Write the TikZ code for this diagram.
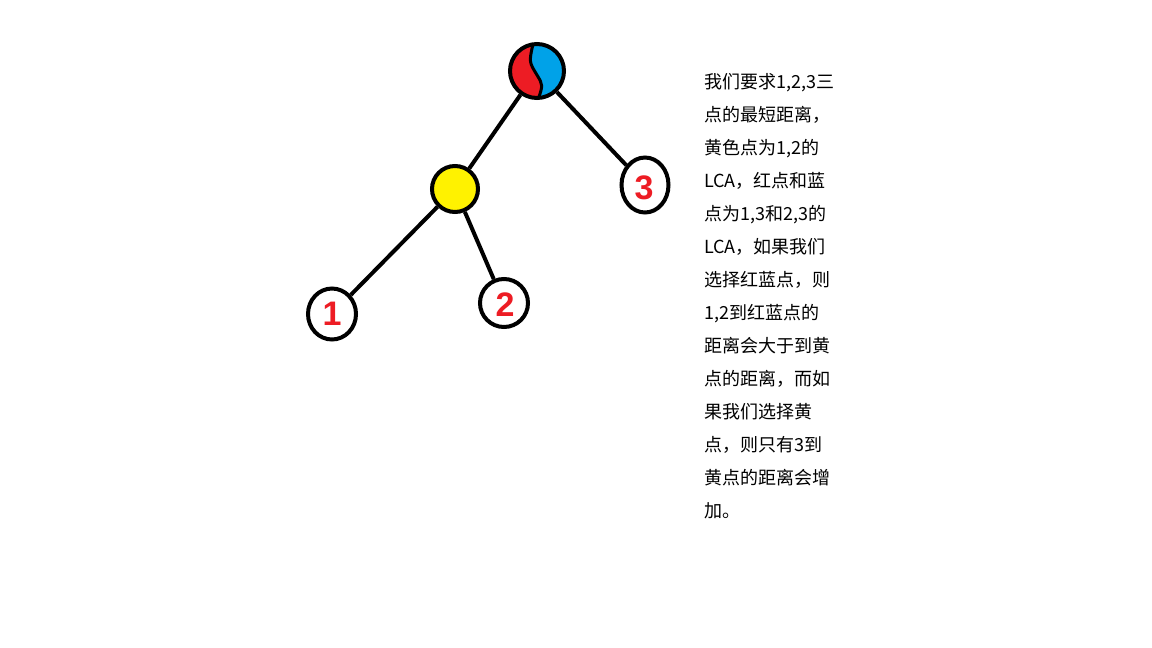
\documentclass[tikz,border=0pt]{standalone}
\usepackage{fontspec}
\usetikzlibrary{shapes.geometric}
\setmainfont{Liberation Sans}
\newfontfamily\cjk{Noto Sans CJK SC}
\definecolor{pred}{HTML}{ED1C24}
\definecolor{pblue}{HTML}{00A2E8}
\definecolor{pyel}{HTML}{FFF200}
\begin{document}
\begin{tikzpicture}[x=1pt,y=-1pt,
  tnode/.style={draw=black,line width=4pt,ellipse,inner sep=0pt},
  edge/.style={draw=black,line width=4pt},
  digit/.style={text=pred,font=\fontsize{34}{34}\selectfont\bfseries},
  txt/.style={anchor=base west,inner sep=0pt,font=\cjk\fontsize{18}{18}\selectfont}]
\useasboundingbox[fill=white] (0,0) rectangle (1152,648);
% root with red/blue halves
\begin{scope}
  \clip (537,71) circle (28);
  \fill[pblue] (500,30) rectangle (580,110);
  \fill[pred] (500,30) -- (533,30) -- (533,48) .. controls (529,62) .. (537,75) .. controls (543,85) .. (538,110) -- (500,110) -- cycle;
  \draw[line width=3pt] (533,44) .. controls (529,62) .. (537,75) .. controls (543,85) .. (538,100);
\end{scope}
\node[tnode,circle,minimum size=54pt] (root) at (537,71) {};
\node[tnode,circle,fill=pyel,minimum size=46pt] (yellow) at (455,189) {};
\node[tnode,minimum width=47pt,minimum height=55pt] (n3) at (645,185) {};
\node[tnode,minimum width=48pt,minimum height=51pt] (n1) at (332,314) {};
\node[tnode,minimum width=48pt,minimum height=48pt] (n2) at (504,303) {};
\node[digit] (d1) at (n1) {1};
\node[digit] (d2) at (505,305) {2};
\node[digit] (d3) at (644,188) {3};
\draw[edge] (root) -- (yellow);
\draw[edge] (root) -- (n3);
\draw[edge] (yellow) -- (n1);
\draw[edge] (yellow) -- (n2);
\node[txt] (t1) at (704,88) {我们要求1,2,3三};
\node[txt] (t2) at (704,121) {点的最短距离，};
\node[txt] (t3) at (704,154) {黄色点为1,2的};
\node[txt] (t4) at (704,187) {LCA，红点和蓝};
\node[txt] (t5) at (704,220) {点为1,3和2,3的};
\node[txt] (t6) at (704,253) {LCA，如果我们};
\node[txt] (t7) at (704,286) {选择红蓝点，则};
\node[txt] (t8) at (704,319) {1,2到红蓝点的};
\node[txt] (t9) at (704,352) {距离会大于到黄};
\node[txt] (t10) at (704,385) {点的距离，而如};
\node[txt] (t11) at (704,418) {果我们选择黄};
\node[txt] (t12) at (704,451) {点，则只有3到};
\node[txt] (t13) at (704,484) {黄点的距离会增};
\node[txt] (t14) at (704,517) {加。};
\end{tikzpicture}
\end{document}
